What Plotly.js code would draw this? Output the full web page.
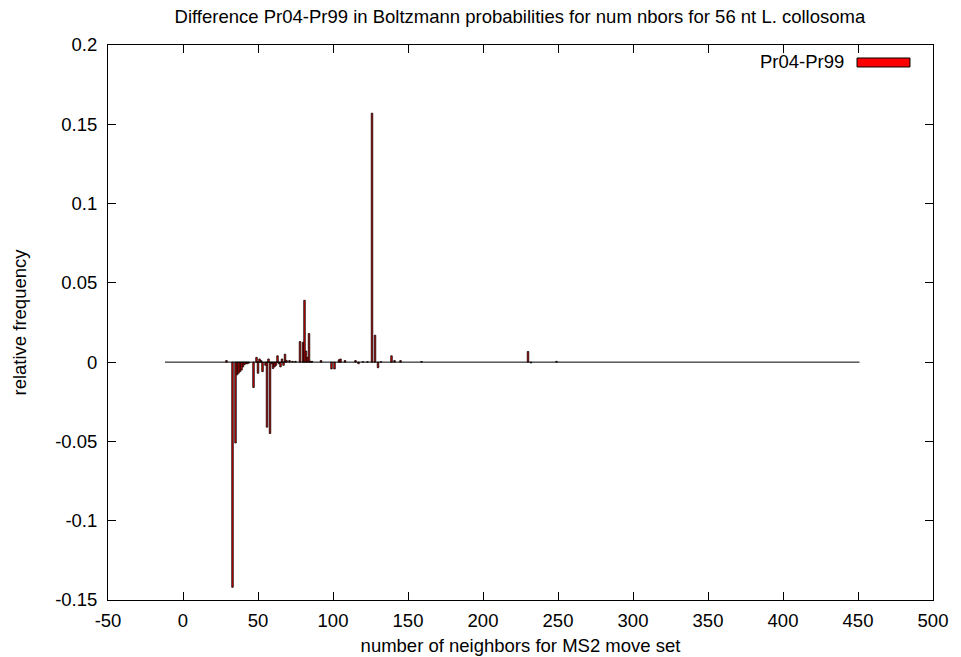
<!DOCTYPE html>
<html>
<head>
<meta charset="utf-8">
<script src="https://cdn.plot.ly/plotly-3.0.1.min.js"></script>
<style>html,body{margin:0;padding:0;background:#fff;}#chart{width:961px;height:657px;}</style>
</head>
<body>
<div id="chart"></div>
<script>
// Data
var seriesName = "Pr04-Pr99";
var nbors = [29, 33, 35, 36, 37, 38, 39, 40, 41, 42, 43, 44, 47, 49, 50, 51, 52, 53, 55, 56, 57, 58, 59, 60, 61, 62, 63, 64, 65, 66, 67, 68, 69, 71, 73, 75, 78, 80, 81, 82, 83, 84, 85, 86, 92, 99, 101, 104, 105, 108, 115, 117, 120, 123, 126, 128, 130, 132, 139, 141, 145, 159, 230, 232, 249];
var diffProb = [0.001, -0.142, -0.051, -0.008, -0.007, -0.006, -0.005, -0.003, -0.0015, -0.001, -0.001, -0.0005, -0.016, 0.003, -0.007, 0.002, 0.001, -0.006, -0.002, -0.041, 0.002, -0.045, -0.001, -0.004, -0.003, -0.002, 0.004, -0.001, -0.003, 0.002, -0.002, 0.005, 0.001, 0.001, 0.0005, 0.0005, 0.013, 0.0125, 0.039, 0.007, 0.003, 0.018, 0.0005, 0.0005, 0.001, -0.0043, -0.0043, 0.0015, 0.002, 0.001, 0.001, -0.001, 0.0003, 0.0003, 0.157, 0.017, -0.0035, 0.0003, 0.004, 0.001, 0.001, 0.0004, 0.0067, -0.0005, 0.0005];
var zeroLineX = [-12, 451];
var zeroLineY = [0, 0];
var xTickVals = [-50, 0, 50, 100, 150, 200, 250, 300, 350, 400, 450, 500];
var xTickText = ["-50", "0", "50", "100", "150", "200", "250", "300", "350", "400", "450", "500"];
var yTickVals = [-0.15, -0.1, -0.05, 0, 0.05, 0.1, 0.15, 0.2];
var yTickText = ["-0.15", "-0.1", "-0.05", "0", "0.05", "0.1", "0.15", "0.2"];

var font = "Liberation Sans, Arial, Helvetica, sans-serif";
var fs = 18.5;

var traces = [
  {
    type: "scatter", mode: "lines", x: zeroLineX, y: zeroLineY,
    line: {color: "#000000", width: 1}, hoverinfo: "skip", showlegend: false
  },
  {
    type: "bar", name: seriesName, x: nbors, y: diffProb, width: 1,
    marker: {color: "#ff0000", line: {color: "#000000", width: 0.8}},
    showlegend: false
  }
];

var layout = {
  width: 961, height: 657,
  margin: {l: 108, r: 28, t: 45, b: 57},
  paper_bgcolor: "#ffffff", plot_bgcolor: "#ffffff",
  font: {family: font, size: fs, color: "#000000"},
  title: {text: "Difference Pr04-Pr99 in Boltzmann probabilities for num nbors for 56 nt L. collosoma",
          font: {family: font, size: fs, color: "#000000"}, x: 0.541, xanchor: "center", y: 0.975, yanchor: "middle"},
  bargap: 0,
  xaxis: {
    range: [-50, 500], tickmode: "array", tickvals: xTickVals, ticktext: xTickText,
    ticks: "inside", ticklen: 8, tickwidth: 1, tickcolor: "#000000",
    showline: true, linecolor: "#000000", linewidth: 1, mirror: "ticks",
    showgrid: false, zeroline: false, ticklabelstandoff: 4,
    tickfont: {family: font, size: fs, color: "#000000"},
    title: {text: "number of neighbors for MS2 move set", font: {family: font, size: fs, color: "#000000"}, standoff: 8}
  },
  yaxis: {
    range: [-0.15, 0.2], tickmode: "array", tickvals: yTickVals, ticktext: yTickText,
    ticks: "inside", ticklen: 8, tickwidth: 1, tickcolor: "#000000",
    showline: true, linecolor: "#000000", linewidth: 1, mirror: "ticks",
    showgrid: false, zeroline: false, ticklabelstandoff: 6,
    tickfont: {family: font, size: fs, color: "#000000"},
    title: {text: "relative frequency", font: {family: font, size: fs, color: "#000000"}, standoff: 23}
  },
  shapes: [
    {type: "rect", xref: "paper", yref: "paper", x0: 0.9079, x1: 0.9721, y0: 0.9766, y1: 0.9604,
     fillcolor: "#ff0000", line: {color: "#000000", width: 1}}
  ],
  annotations: [
    {xref: "paper", yref: "paper", x: 0.8945, y: 0.9694, xanchor: "right", yanchor: "middle",
     text: seriesName, showarrow: false, font: {family: font, size: fs, color: "#000000"}}
  ]
};

Plotly.newPlot("chart", traces, layout, {displayModeBar: false, staticPlot: true});
</script>
</body>
</html>
